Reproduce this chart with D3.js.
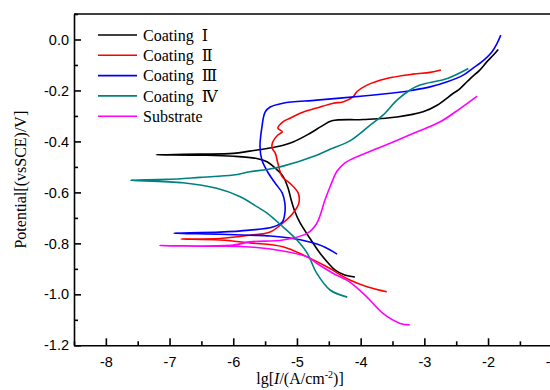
<!DOCTYPE html>
<html>
    <head>
        <meta charset='UTF-8'>
        <title>Polarization curves</title>
        <script src='https://d3js.org/d3.v7.min.js'></script>
        <style type='text/css'>
        body { margin: 0; background: #fff; }
        .tick text { font-family: 'Liberation Sans', Arial, sans-serif; font-size: 14.5px; fill: #000; }
        .tick line, .domain { stroke: #000; stroke-width: 1.6px; }
        .lbl { font-family: 'Liberation Serif', 'DejaVu Serif', 'Times New Roman', serif; font-size: 16px; fill: #000; }
        </style>
    </head>
    <body>
        <div id="container"></div>
    </body>

    <script>
        // data: [lg I, potential], cathodic end -> tip -> anodic end
        var seriesNames = ["Coating \u2160", "Coating \u2161", "Coating \u2162", "Coating \u2163", "Substrate"];
        var seriesColors = ["#000000", "#ff0000", "#0000ff", "#008080", "#ff00ff"];

        var coating1 = [
            [-4.09,-0.932],[-4.25,-0.924],[-4.40,-0.905],[-4.51,-0.877],[-4.64,-0.838],[-4.80,-0.779],
            [-4.95,-0.720],[-5.03,-0.677],[-5.09,-0.630],[-5.14,-0.583],[-5.22,-0.536],[-5.34,-0.505],
            [-5.47,-0.480],[-5.63,-0.467],[-6.00,-0.458],[-6.52,-0.454],[-7.21,-0.452],
            [-6.52,-0.450],[-6.00,-0.447],[-5.74,-0.438],[-5.32,-0.421],[-5.06,-0.402],[-4.80,-0.369],
            [-4.61,-0.340],[-4.45,-0.319],[-3.96,-0.314],[-3.43,-0.304],[-3.02,-0.284],[-2.80,-0.258],
            [-2.55,-0.212],[-2.47,-0.199],[-2.33,-0.166],[-2.25,-0.147],[-2.13,-0.120],[-2.02,-0.088],
            [-1.92,-0.062],[-1.84,-0.039]
        ];
        var coating2 = [
            [-3.59,-0.990],[-3.90,-0.970],[-4.17,-0.944],[-4.53,-0.892],[-4.84,-0.853],[-5.22,-0.813],
            [-5.74,-0.798],[-6.21,-0.787],[-6.82,-0.783],
            [-6.21,-0.781],[-5.74,-0.768],[-5.42,-0.755],[-5.22,-0.720],[-5.06,-0.681],[-4.97,-0.642],
            [-4.98,-0.603],[-5.11,-0.564],[-5.23,-0.539],[-5.30,-0.485],[-5.34,-0.446],[-5.39,-0.426],
            [-5.38,-0.402],[-5.30,-0.375],[-5.23,-0.362],[-5.30,-0.348],[-5.22,-0.323],[-5.11,-0.309],
            [-4.95,-0.289],[-4.69,-0.269],[-4.43,-0.250],[-4.28,-0.245],[-4.12,-0.225],[-4.06,-0.205],
            [-3.90,-0.179],[-3.59,-0.153],[-3.18,-0.136],[-2.91,-0.129],[-2.74,-0.120]
        ];
        var coating3 = [
            [-4.37,-0.842],[-4.56,-0.815],[-4.80,-0.795],[-5.11,-0.779],[-5.42,-0.771],[-5.74,-0.768],
            [-6.21,-0.764],[-6.93,-0.760],
            [-6.21,-0.756],[-5.74,-0.748],[-5.38,-0.736],[-5.23,-0.716],[-5.19,-0.681],[-5.19,-0.642],
            [-5.23,-0.603],[-5.34,-0.564],[-5.45,-0.524],[-5.55,-0.473],[-5.58,-0.422],[-5.55,-0.344],
            [-5.50,-0.285],[-5.42,-0.265],[-5.22,-0.250],[-4.69,-0.238],[-3.96,-0.222],[-3.43,-0.208],
            [-3.18,-0.199],[-2.91,-0.186],[-2.64,-0.166],[-2.39,-0.140],[-2.24,-0.113],[-2.10,-0.088],
            [-1.94,-0.049],[-1.86,-0.016],[-1.80,0.017]
        ];
        var coating4 = [
            [-4.21,-1.011],[-4.48,-0.983],[-4.69,-0.917],[-4.84,-0.838],[-5.00,-0.787],[-5.22,-0.735],
            [-5.47,-0.681],[-5.63,-0.656],[-5.89,-0.617],[-6.26,-0.584],[-6.79,-0.562],[-7.61,-0.552],
            [-7.04,-0.549],[-6.52,-0.541],[-6.00,-0.532],[-5.74,-0.519],[-5.47,-0.510],[-5.22,-0.497],
            [-4.69,-0.454],[-4.48,-0.431],[-4.17,-0.398],[-3.85,-0.336],[-3.65,-0.297],[-3.43,-0.238],
            [-3.23,-0.199],[-3.07,-0.179],[-2.64,-0.153],[-2.31,-0.114]
        ];
        var substrate = [
            [-3.23,-1.120],[-3.38,-1.114],[-3.65,-1.075],[-3.90,-1.011],[-4.17,-0.952],[-4.43,-0.918],
            [-4.69,-0.878],[-4.84,-0.853],[-5.22,-0.830],[-5.74,-0.814],[-6.30,-0.811],[-7.15,-0.809],
            [-6.00,-0.807],[-5.74,-0.794],[-5.22,-0.787],[-4.84,-0.761],[-4.69,-0.722],[-4.56,-0.630],
            [-4.48,-0.578],[-4.37,-0.516],[-4.25,-0.485],[-4.12,-0.467],[-3.70,-0.424],[-3.18,-0.369],
            [-2.75,-0.323],[-2.44,-0.271],[-2.17,-0.222]
        ];
        var allSeries = [coating1, coating2, coating3, coating4, substrate];

        var xTicks = [-8, -7, -6, -5, -4, -3, -2, -1];
        var xMinor = [-8.5, -7.5, -6.5, -5.5, -4.5, -3.5, -2.5, -1.5];
        var yTicks = [0, -0.2, -0.4, -0.6, -0.8, -1.0, -1.2];
        var yMinor = [0.1, -0.1, -0.3, -0.5, -0.7, -0.9, -1.1];

        // dimensions (note: "top" is taken by window.top, so plotTop)
        var W = 550, H = 390;
        var plotLeft = 74, plotTop = 14, plotBottom = 345.3;

        var x = d3.scaleLinear().domain([-8.5, -0.5]).range([plotLeft, plotLeft + 8 * 63.7]);
        var y = d3.scaleLinear().domain([-1.2, 0.1]).range([plotBottom, plotTop]);

        var svg = d3.select("#container").append("svg")
            .attr("width", W)
            .attr("height", H);

        // curves
        var line = d3.line()
            .x(function(d) { return x(d[0]); })
            .y(function(d) { return y(d[1]); })
            .curve(d3.curveCatmullRom.alpha(0.5));

        svg.selectAll(".curve")
            .data(allSeries)
            .enter().append("path")
            .attr("class", "curve")
            .attr("d", line)
            .attr("fill", "none")
            .attr("stroke", function(d, i) { return seriesColors[i]; })
            .attr("stroke-width", 1.6);

        // x axis, ticks pointing inward
        svg.append("g")
            .attr("transform", "translate(0," + plotBottom + ")")
            .call(d3.axisBottom(x).tickValues(xTicks).tickSizeInner(-7).tickSizeOuter(0)
                .tickPadding(11).tickFormat(function(d) { return String(d); }));
        svg.append("g")
            .attr("transform", "translate(0," + plotBottom + ")")
            .call(d3.axisBottom(x).tickValues(xMinor).tickSizeInner(-4).tickSizeOuter(0)
                .tickFormat(""))
            .select(".domain").remove();

        // y axis
        svg.append("g")
            .attr("transform", "translate(" + plotLeft + ",0)")
            .call(d3.axisLeft(y).tickValues(yTicks).tickSizeInner(-7).tickSizeOuter(0)
                .tickPadding(5).tickFormat(function(d) { return d.toFixed(1); }));
        svg.append("g")
            .attr("transform", "translate(" + plotLeft + ",0)")
            .call(d3.axisLeft(y).tickValues(yMinor).tickSizeInner(-4).tickSizeOuter(0)
                .tickFormat(""))
            .select(".domain").remove();

        // top frame
        svg.append("line")
            .attr("x1", plotLeft).attr("x2", W + 10)
            .attr("y1", plotTop).attr("y2", plotTop)
            .attr("stroke", "#000").attr("stroke-width", 1.6);

        // axis titles
        svg.append("text")
            .attr("class", "lbl")
            .attr("transform", "translate(26," + ((plotTop + plotBottom) / 2) + ") rotate(-90)")
            .attr("text-anchor", "middle")
            .text("Potential[(vsSCE)/V]");

        var xt = svg.append("text")
            .attr("class", "lbl")
            .attr("x", 300).attr("y", 384)
            .attr("text-anchor", "middle");
        xt.append("tspan").text("lg[");
        xt.append("tspan").attr("font-style", "italic").text("I");
        xt.append("tspan").text("/(A/cm");
        xt.append("tspan").attr("font-size", "10px").attr("dy", -6).text("-2");
        xt.append("tspan").attr("dy", 6).text(")]");

        // legend
        var legend = svg.selectAll(".legend")
            .data(seriesNames)
            .enter().append("g")
            .attr("transform", function(d, i) { return "translate(98," + (35 + i * 20.3) + ")"; });
        legend.append("line")
            .attr("x1", 0).attr("x2", 39)
            .attr("stroke", function(d, i) { return seriesColors[i]; })
            .attr("stroke-width", 1.6);
        legend.append("text")
            .attr("class", "lbl")
            .attr("x", 45).attr("dy", "0.35em")
            .attr("xml:space", "preserve")
            .text(function(d) { return d.replace(" ", "  "); });
    </script>
</html>
